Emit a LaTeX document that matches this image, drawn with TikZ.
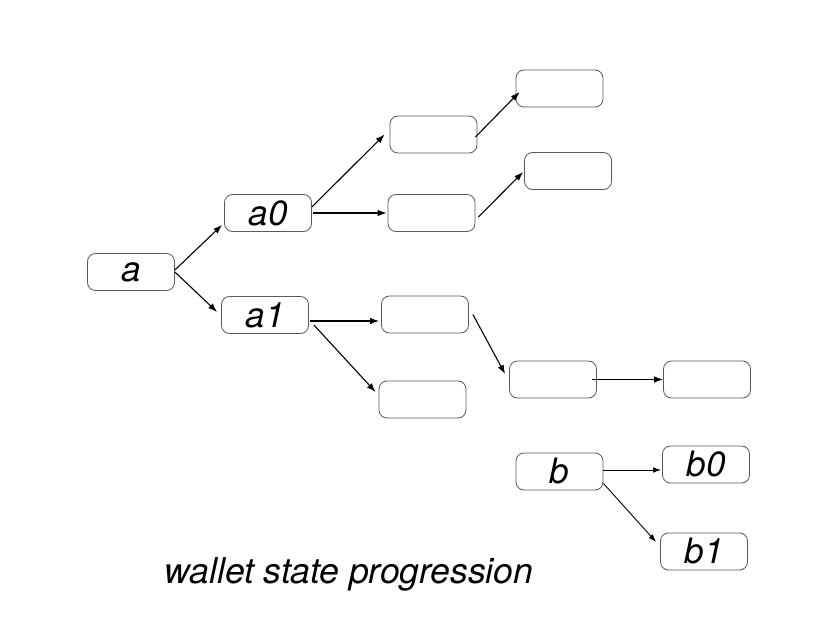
\documentclass[tikz,border=0pt]{standalone}
\usepackage{fontspec}
\setmainfont{TeX Gyre Heros}
\usetikzlibrary{arrows.meta}
\begin{document}
\begin{tikzpicture}[x=1pt,y=-1pt,
  box/.style={draw=black!65,line width=0.8pt,rounded corners=8pt,
    minimum width=87pt,minimum height=37pt,inner sep=0pt,
    font=\fontsize{35}{35}\selectfont\itshape},
  arr/.style={line width=1.1pt,-{Latex[length=9pt,width=6.5pt]}},
  arrs/.style={line width=0.9pt,-{Latex[length=8pt,width=5.5pt]}}]
\useasboundingbox (0,0) rectangle (823,642);
\node[box] (a)  at (131,272)   {a};
\node[box] (a0) at (268,213)   {a0};
\node[box] (a1) at (265,315)   {a1};
\node[box] (n1) at (433.5,134.5) {};
\node[box] (n2) at (431.5,213) {};
\node[box] (n3) at (559.5,88.5) {};
\node[box] (n4) at (568,171)   {};
\node[box] (c1) at (425,314.5) {};
\node[box] (c2) at (422.5,399.5) {};
\node[box] (d1) at (553,379.5) {};
\node[box] (d2) at (707,379.5) {};
\node[box] (b)  at (559.5,471.5) {b};
\node[box] (b0) at (706,464.5) {b0};
\node[box] (b1) at (704,551.5) {b1};
\draw[arr] ([shift={(0,-2)}]a.east) -- ([shift={(-2,-7)}]a0.south west);
\draw[arr] (a.east) -- ([shift={(-4,-3)}]a1.west);
\draw[arr] ([shift={(0,-6)}]a0.east) -- ([shift={(-5,0)}]n1.west);
\draw[arr] ([shift={(1,0)}]a0.east) -- ([shift={(-1,0)}]n2.west);
\draw[arr] ([shift={(-2,2.5)}]n1.east) -- ([shift={(4,3.5)}]n3.west);
\draw[arr] ([shift={(3,4)}]n2.east) -- ([shift={(-1,1)}]n4.west);
\draw[arr] ([shift={(1,6)}]a1.east) -- ([shift={(-2,6.5)}]c1.west);
\draw[arr] ([shift={(5,10)}]a1.east) -- ([shift={(-3,-7.5)}]c2.west);
\draw[arr] ([shift={(4,0)}]c1.east) -- ([shift={(-4,-5.5)}]d1.west);
\draw[arr] ([shift={(-5,0)}]d1.east) -- (d2.west);
\draw[arrs] ([shift={(0,-1.5)}]b.east) -- ([shift={(-1,5.5)}]b0.west);
\draw[arrs] ([shift={(0,-7)}]b.south east) -- ([shift={(-4,-9.5)}]b1.west);
\node[anchor=base,font=\fontsize{35.5}{35.5}\selectfont\itshape] (cap) at (349,583) {wallet state progression};
\end{tikzpicture}
\end{document}
